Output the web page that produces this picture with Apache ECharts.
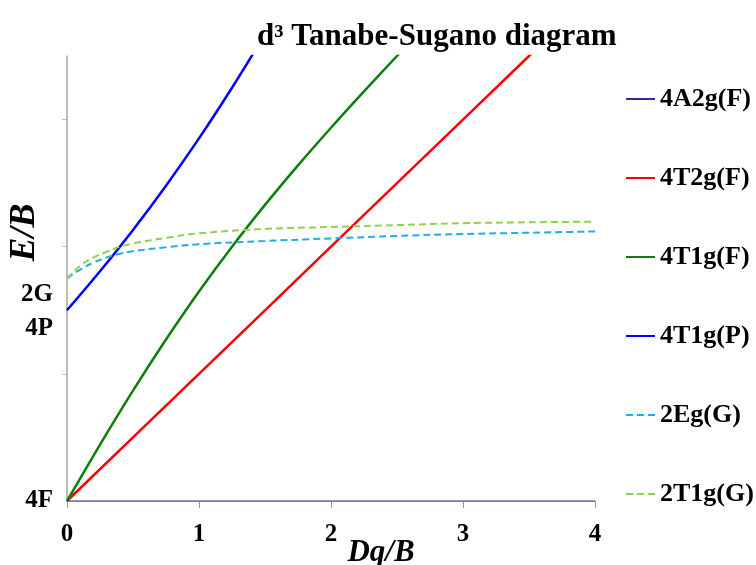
<!DOCTYPE html>
<html><head><meta charset="utf-8">
<script src="https://cdn.jsdelivr.net/npm/echarts@6/dist/echarts.min.js"></script>
<style>html,body{margin:0;padding:0;background:#fff}#c{width:756px;height:565px}</style>
</head><body><div id="c"></div>
<script>
// Data (E/B vs Dq/B)
const xTicks = [0, 1, 2, 3, 4];
const yLabelValues = [0, 13.55, 16.2];
const yLabelTexts = ['4F', '4P', '2G'];

const a2g_x = [0, 4];
const a2g_y = [0, 0];

const t2g_x = [0, 0.5, 1, 1.5, 2, 2.5, 3, 3.5, 4];
const t2g_y = [0, 5, 10, 15, 20, 25, 30, 35, 40];

const t1gF_x = [0, 0.25, 0.5, 0.75, 1, 1.25, 1.5, 1.75, 2, 2.25, 2.5, 2.75];
const t1gF_y = [0, 4.43, 8.68, 12.70, 16.48, 20.0, 23.29, 26.40, 29.36, 32.22, 35.0, 37.72];

const t1gP_x = [0, 0.25, 0.5, 0.75, 1, 1.25, 1.5];
const t1gP_y = [15, 18.07, 21.32, 24.80, 28.52, 32.5, 36.71];

const dbl_x = [0, 0.1, 0.2, 0.3, 0.4, 0.5, 0.75, 1, 1.5, 2, 2.5, 3, 3.5, 4];
const eg_y  = [17.5, 18.2, 18.75, 19.15, 19.45, 19.65, 19.95, 20.2, 20.45, 20.65, 20.85, 21.0, 21.1, 21.2];
const t1g_y = [17.5, 18.5, 19.15, 19.6, 20.0, 20.25, 20.7, 21.05, 21.4, 21.55, 21.7, 21.85, 21.92, 21.97];

const zip = (xs, ys) => xs.map((x, i) => [x, ys[i]]);
const serif = 'Liberation Serif';

const chart = echarts.init(document.getElementById('c'));
chart.setOption({
  animation: false,
  backgroundColor: '#fff',
  title: {
    text: 'd³ Tanabe-Sugano diagram',
    left: 252, top: 16,
    textStyle: {fontFamily: serif, fontWeight: 'bold', fontSize: 31, color: '#000'}
  },
  legend: {
    orient: 'vertical', left: 620, top: 81,
    itemWidth: 29, itemHeight: 14, itemGap: 53,
    itemStyle: {opacity: 0},
    textStyle: {fontFamily: serif, fontWeight: 'bold', fontSize: 26, lineHeight: 26, color: '#000'}
  },
  grid: {left: 67, right: 161, top: 56, bottom: 64, outerBoundsMode: 'none', containLabel: false},
  xAxis: {
    type: 'value', min: 0, max: 4, interval: 1,
    name: 'Dq/B', nameLocation: 'middle', nameGap: 36, nameMoveOverlap: false,
    nameTextStyle: {fontFamily: serif, fontWeight: 'bold', fontStyle: 'italic', fontSize: 31, color: '#000', padding: [0, 0, 0, 100]},
    axisLine: {lineStyle: {color: '#999', width: 1}},
    axisTick: {length: 7, lineStyle: {color: '#999'}},
    axisLabel: {fontFamily: serif, fontWeight: 'bold', fontSize: 25, color: '#000', margin: 21},
    splitLine: {show: false}
  },
  yAxis: {
    type: 'value', min: 0, max: 35, interval: 10,
    name: 'E/B', nameLocation: 'middle', nameGap: 24, nameRotate: 90, nameMoveOverlap: false,
    nameTextStyle: {fontFamily: serif, fontWeight: 'bold', fontStyle: 'italic', fontSize: 36, color: '#000', padding: [0, 0, 0, 92]},
    axisLine: {show: true, lineStyle: {color: '#a6a6a6', width: 1.5}},
    axisTick: {show: true, length: 5, customValues: [10, 20, 30], lineStyle: {color: '#bbb'}},
    axisLabel: {
      customValues: yLabelValues,
      formatter: v => yLabelTexts[yLabelValues.indexOf(v)] || '',
      fontFamily: serif, fontWeight: 'bold', fontSize: 25, color: '#000', margin: 14
    },
    splitLine: {show: false}
  },
  series: [
    {name: '4A2g(F)', type: 'line', symbol: 'none', data: zip(a2g_x, a2g_y), color: '#2e2e8c', lineStyle: {width: 1.2}, z: 5},
    {name: '4T2g(F)', type: 'line', symbol: 'none', data: zip(t2g_x, t2g_y), color: '#ff0000', lineStyle: {width: 2.5}},
    {name: '4T1g(F)', type: 'line', symbol: 'none', smooth: 0.3, data: zip(t1gF_x, t1gF_y), color: '#0a800a', lineStyle: {width: 2.5}},
    {name: '4T1g(P)', type: 'line', symbol: 'none', smooth: 0.3, data: zip(t1gP_x, t1gP_y), color: '#0000ff', lineStyle: {width: 2.5}},
    {name: '2Eg(G)', type: 'line', symbol: 'none', smooth: 0.4, data: zip(dbl_x, eg_y), color: '#1fade6', lineStyle: {width: 2, type: [7, 4]}},
    {name: '2T1g(G)', type: 'line', symbol: 'none', smooth: 0.4, data: zip(dbl_x, t1g_y), color: '#92d050', lineStyle: {width: 2, type: [7, 4]}}
  ]
});
</script></body></html>
